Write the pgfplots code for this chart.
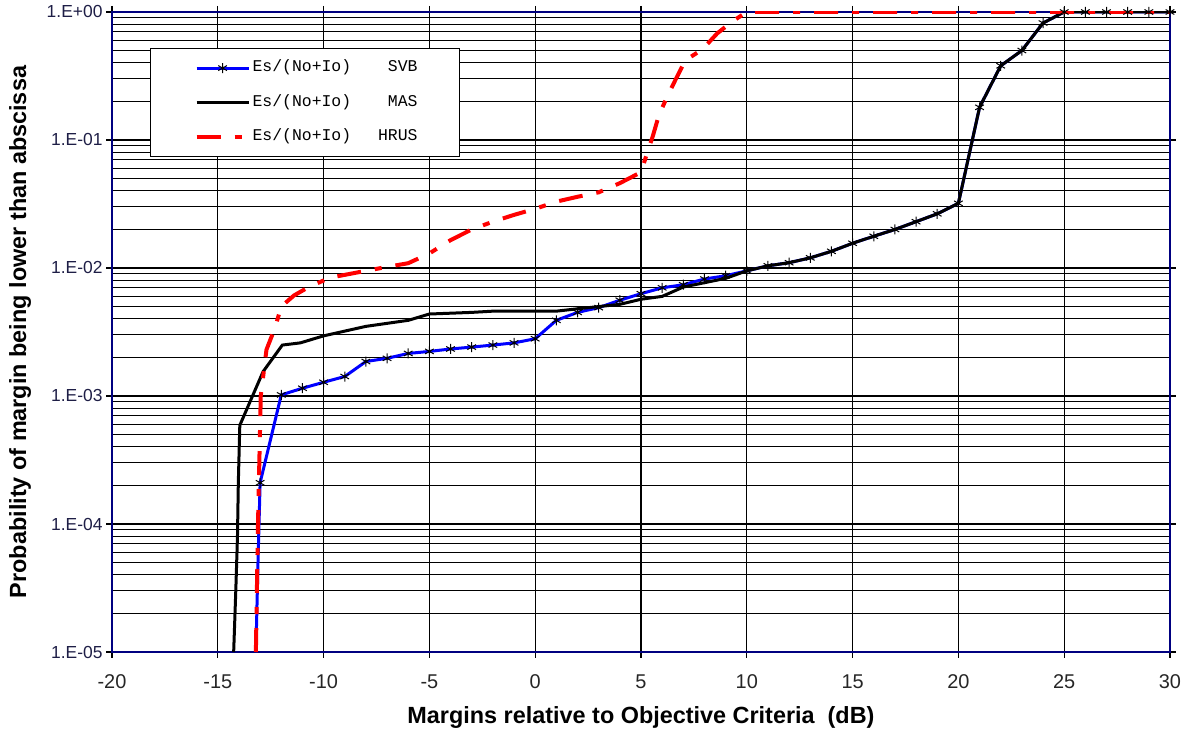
\documentclass[border=0pt]{standalone}
\usepackage{fontspec}
\setmainfont{Liberation Sans}
\setmonofont{Liberation Mono}
\usepackage{pgfplots}
\pgfplotsset{compat=1.18}
\definecolor{navyframe}{RGB}{0,0,128}
\definecolor{ylab}{RGB}{30,30,70}
\begin{document}
\begin{tikzpicture}[x=1bp,y=1bp]
\useasboundingbox (0,0) rectangle (1192,740);
\begin{axis}[
  at={(112bp,88bp)}, anchor=south west,
  scale only axis, width=1058bp, height=640bp,
  xmin=-20, xmax=30, ymode=log, ymin=1e-5, ymax=1,
  xtick={-20,-15,...,30},
  ytick={1e-5,1e-4,1e-3,1e-2,1e-1,1},
  yticklabels={1.E-05,1.E-04,1.E-03,1.E-02,1.E-01,1.E+00},
  minor ytick={2e-5,3e-5,4e-5,5e-5,6e-5,7e-5,8e-5,9e-5,
               2e-4,3e-4,4e-4,5e-4,6e-4,7e-4,8e-4,9e-4,
               2e-3,3e-3,4e-3,5e-3,6e-3,7e-3,8e-3,9e-3,
               2e-2,3e-2,4e-2,5e-2,6e-2,7e-2,8e-2,9e-2,
               0.2,0.3,0.4,0.5,0.6,0.7,0.8,0.9},
  xmajorgrids, ymajorgrids, yminorgrids,
  major grid style={black,line width=1.1bp},
  minor grid style={black,line width=1.1bp},
  axis line style={navyframe,line width=2.2bp},
  tick align=outside,
  major tick length=6bp, minor tick length=0pt,
  tick style={black,line width=1.2bp},
  /pgf/number format/assume math mode=true,
  x tick label style={font=\fontsize{20}{24}\selectfont, text=black!85, yshift=-13bp},
  y tick label style={font=\fontsize{17.5}{20}\selectfont, text=ylab},
  xlabel={Margins relative to Objective Criteria\ \ (dB)},
  ylabel={Probability of margin being lower than abscissa},
  label style={font=\bfseries\fontsize{23.5}{28}\selectfont},
  xlabel style={at={(axis description cs:0.5,-0.103)}, anchor=center},
  ylabel style={at={(axis description cs:-0.0868,0.5)}, anchor=center},
  legend cell align=left,
  legend image code/.code={\draw[#1, mark indices={2}] plot coordinates {(2bp,0bp) (28bp,0bp) (54bp,0bp)};},
  legend style={at={(rel axis cs:0.0359,0.94375)}, anchor=north west,
    draw=black, line width=1.2bp, fill=white,
    inner xsep=44bp, inner ysep=11bp, row sep=17.5bp,
    font=\ttfamily\fontsize{16.5}{19}\selectfont,
    nodes={text height=10bp, text depth=3bp}},
]
\addplot[blue, line width=3bp, mark=asterisk, mark size=5bp,
  mark options={black, solid, line width=1bp}, mark indices={3,4,...,60}] coordinates {
(-13.2,1e-5)(-13.1,5e-5)(-13,2.1e-4)(-12,1.02e-3)(-11,1.15e-3)(-10,1.28e-3)(-9,1.42e-3)
(-8,1.86e-3)(-7,1.97e-3)(-6,2.15e-3)(-5,2.23e-3)(-4,2.33e-3)(-3,2.41e-3)(-2,2.5e-3)
(-1,2.6e-3)(0,2.8e-3)(1,3.9e-3)(2,4.5e-3)(3,4.9e-3)(4,5.6e-3)(5,6.3e-3)(6,7.0e-3)
(7,7.4e-3)(8,8.2e-3)(9,8.7e-3)(10,9.5e-3)(11,1.04e-2)(12,1.1e-2)(13,1.2e-2)(14,1.35e-2)
(15,1.56e-2)(16,1.77e-2)(17,2.0e-2)(18,2.3e-2)(19,2.65e-2)(20,3.2e-2)(21,0.18)(22,0.38)
(23,0.5)(24,0.82)(25,1)(26,1)(27,1)(28,1)(29,1)(30,1)};
\addlegendentry{\makebox[165bp][l]{Es/(No+Io)\hfill SVB}\hspace*{-4bp}}
\addplot[black, line width=3bp] coordinates {
(-14.25,1e-5)(-14.15,3e-5)(-14.07,8e-5)(-14.03,2.1e-4)(-13.96,5.9e-4)(-12.86,1.55e-3)
(-11.95,2.5e-3)(-11.1,2.6e-3)(-10,2.95e-3)(-8,3.5e-3)(-6,3.9e-3)(-5,4.37e-3)(-3,4.5e-3)
(-2,4.6e-3)(1,4.6e-3)(2,4.8e-3)(4,5.2e-3)(5,5.7e-3)(6,6.0e-3)(7,7.1e-3)(9,8.3e-3)
(10,9.5e-3)(11,1.04e-2)(12,1.1e-2)(13,1.2e-2)(14,1.35e-2)(15,1.56e-2)(16,1.77e-2)
(17,2.0e-2)(18,2.3e-2)(19,2.65e-2)(20,3.2e-2)(21,0.18)(22,0.38)(23,0.5)(24,0.82)(25,1)(30,1)};
\addlegendentry{\makebox[165bp][l]{Es/(No+Io)\hfill MAS}\hspace*{-4bp}}
\addplot[red, line width=4bp, dash pattern=on 24bp off 14bp on 7bp off 14bp] coordinates {
(-13.2,1e-5)(-13.1,1e-4)(-12.97,1.0e-3)(-12.7,2.3e-3)(-12.3,3.4e-3)(-12.0,5.0e-3)
(-11.4,6.1e-3)(-10.7,7.1e-3)(-9.7,8.4e-3)(-8.3,9.3e-3)(-7,1.02e-2)(-6,1.09e-2)(-5,1.3e-2)
(-4,1.65e-2)(-3,2.0e-2)(-2,2.3e-2)(-1,2.6e-2)(0,2.9e-2)(1,3.3e-2)(2,3.6e-2)(3,3.9e-2)
(4,4.6e-2)(5,5.6e-2)(5.3,8e-2)(5.55,0.106)(5.85,0.157)(6.25,0.22)(6.65,0.30)(7.1,0.42)
(7.9,0.51)(8.6,0.68)(9.3,0.84)(10,1)(30,1)};
\addlegendentry{\makebox[165bp][l]{Es/(No+Io)\hfill HRUS}\hspace*{-4bp}}
\end{axis}
\end{tikzpicture}
\end{document}
